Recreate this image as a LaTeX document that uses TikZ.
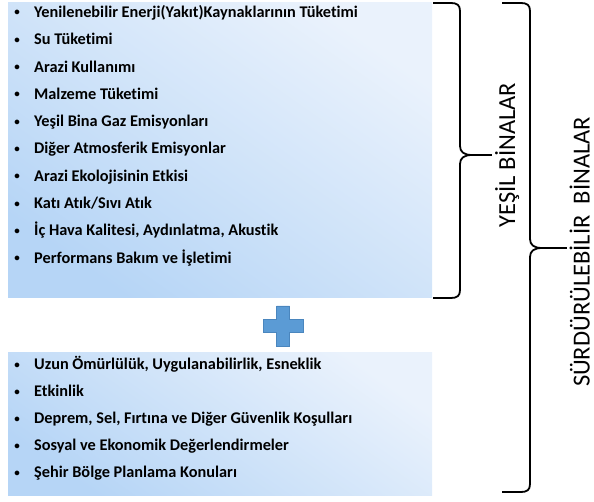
\documentclass[tikz,border=0pt]{standalone}
\usepackage{fontspec}
\setmainfont[Ligatures=NoCommon]{Carlito}
\definecolor{boxlight}{HTML}{EAF2FC}
\definecolor{boxdark}{HTML}{B6D5F6}
\definecolor{plusblue}{HTML}{5B9BD5}
\definecolor{plusedge}{HTML}{4A86BE}
\begin{document}
\begin{tikzpicture}[x=1pt,y=-1pt,
  listbox/.style={shade, top color=boxlight, bottom color=boxdark, shading angle=-35, draw=none},
  item/.style={anchor=base west, inner sep=0pt, font=\fontsize{16.3}{16.3}\selectfont\bfseries},
  bul/.style={anchor=base, inner sep=0pt, font=\fontsize{11}{11}\selectfont\bfseries},
  brace/.style={draw=black, line width=1.8pt, line join=round},
  label/.style={inner sep=0pt, rotate=90, anchor=base, font=\fontsize{24.5}{24.5}\selectfont}]
\useasboundingbox (0,0) rectangle (594,502);
\path[listbox] (8,3) rectangle (432,298);
\node[inner sep=0pt, minimum width=424pt, minimum height=295pt] (top) at (220,150.5) {};
\path[listbox] (8,352) rectangle (432,495);
\node[inner sep=0pt, minimum width=424pt, minimum height=143pt] (bottom) at (220,423.5) {};
% top list
\foreach \t [count=\i from 0] in {Yenilenebilir Enerji(Yakıt)Kaynaklarının Tüketimi,Su Tüketimi,Arazi Kullanımı,Malzeme Tüketimi,Yeşil Bina Gaz Emisyonları,Diğer Atmosferik Emisyonlar,Arazi Ekolojisinin Etkisi,Katı Atık/Sıvı Atık,{İç Hava Kalitesi, Aydınlatma, Akustik},Performans Bakım ve İşletimi}{
  \node[bul] (tb\i) at (17,{16+27.3*\i}) {•};
  \node[item] (t\i) at (34,{17.5+27.3*\i}) {\t};
}
% bottom list
\foreach \t [count=\i from 0] in {{Uzun Ömürlülük, Uygulanabilirlik, Esneklik},Etkinlik,{Deprem, Sel, Fırtına ve Diğer Güvenlik Koşulları},Sosyal ve Ekonomik Değerlendirmeler,Şehir Bölge Planlama Konuları}{
  \node[bul] (bb\i) at (17,{368+27*\i}) {•};
  \node[item] (b\i) at (34,{369.5+27*\i}) {\t};
}
% plus sign
\node[inner sep=0pt, minimum size=40pt] (plus) at (283,326) {};
\fill[plusblue, draw=plusedge, line width=0.6pt]
  (263,319.5) -- (276.5,319.5) -- (276.5,306) -- (289.5,306) -- (289.5,319.5) -- (303,319.5)
  -- (303,332.5) -- (289.5,332.5) -- (289.5,346) -- (276.5,346) -- (276.5,332.5) -- (263,332.5) -- cycle;
% brace 1
\draw[brace] (433,3) -- (451,3) .. controls (457,3) and (460,5) .. (460,11)
  -- (460,146) .. controls (460,152) and (464,155) .. (472,155)
  .. controls (464,155) and (460,158) .. (460,164)
  -- (460,290) .. controls (460,296) and (457,298) .. (451,298) -- (433,298);
\draw[brace] (472,155) -- (492,155);
% brace 2
\draw[brace] (502,3) -- (521,3) .. controls (527,3) and (530,5) .. (530,11)
  -- (530,239) .. controls (530,245) and (534,248) .. (542,248)
  .. controls (534,248) and (530,251) .. (530,257)
  -- (530,484) .. controls (530,490) and (527,492) .. (521,492) -- (502,492);
\draw[brace] (542,248) -- (567,248);
% labels
\node[label] (yesil) at (515,155) {YEŞİL BİNALAR};
\node[label] (surd) at (589.5,252) {SÜRDÜRÜLEBİLİR\ \ BİNALAR};
\end{tikzpicture}
\end{document}
